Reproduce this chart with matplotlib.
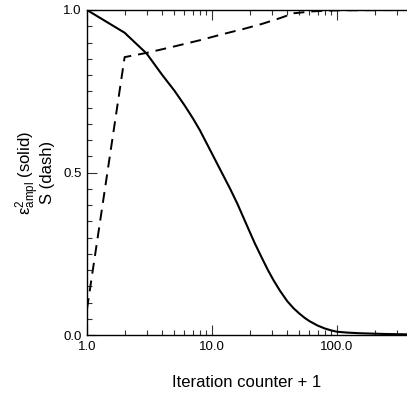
import numpy as np
import matplotlib
matplotlib.use("Agg")
import matplotlib.pyplot as plt
from matplotlib.ticker import FixedLocator, MultipleLocator, LogLocator, FormatStrFormatter, NullFormatter

plt.rcParams['font.family'] = ['Liberation Sans', 'DejaVu Sans']
plt.rcParams['mathtext.fontset'] = 'custom'
plt.rcParams['mathtext.rm'] = 'Liberation Sans'
plt.rcParams['mathtext.it'] = 'Liberation Sans:italic'

# amplitude error (solid)
iter_eps = [1, 2, 3, 4, 5, 6, 7, 8, 9, 10, 11, 12, 13, 14, 16, 18, 20, 22, 25, 28, 31, 35, 40, 45,
            50, 55, 60, 70, 80, 90, 100, 120, 150, 200, 250, 300, 363]
eps2 = [1.0, 0.93, 0.866, 0.80, 0.752, 0.708, 0.668, 0.63, 0.592, 0.558, 0.527, 0.499, 0.473, 0.449,
        0.403, 0.358, 0.318, 0.282, 0.238, 0.2, 0.169, 0.136, 0.104, 0.082, 0.066, 0.053, 0.043,
        0.029, 0.02, 0.014, 0.01, 0.0075, 0.0055, 0.004, 0.003, 0.0025, 0.002]

# S (dash)
iter_s = [1, 2, 3, 5, 8, 12, 18, 25, 35, 45, 65, 100, 363]
s_val = [0.08, 0.855, 0.868, 0.888, 0.907, 0.925, 0.942, 0.957, 0.975, 0.99, 0.996, 0.999, 1.0]

xticks = [1, 10, 100]
yticks = [0.0, 0.5, 1.0]

fig = plt.figure(figsize=(4.07, 3.98), dpi=100)
ax = fig.add_axes([87 / 407, 63 / 398, 320 / 407, 325 / 398])

ax.plot(iter_eps, eps2, color='black', lw=1.5)
ax.plot(iter_s, s_val, color='black', lw=1.4, linestyle=(0, (5.6, 3.6)))

ax.set_xscale('log')
ax.set_xlim(1, 10 ** (320 / 125))
ax.set_ylim(0, 1)

ax.xaxis.set_major_locator(FixedLocator(xticks))
ax.xaxis.set_major_formatter(FormatStrFormatter('%.1f'))
ax.xaxis.set_minor_locator(LogLocator(base=10, subs=np.arange(2, 10)))
ax.xaxis.set_minor_formatter(NullFormatter())
ax.yaxis.set_major_locator(FixedLocator(yticks))
ax.yaxis.set_major_formatter(FormatStrFormatter('%.1f'))
ax.yaxis.set_minor_locator(MultipleLocator(0.05))

ax.tick_params(which='both', direction='in', top=True, right=False, labelsize=9.5, width=0.8, color='#333333')
ax.tick_params(which='major', length=7, pad=4)
ax.tick_params(which='minor', length=3.5)
ax.spines['right'].set_visible(False)
for sp in ['left', 'bottom', 'top']:
    ax.spines[sp].set_linewidth(1.0)

ax.set_xlabel('Iteration counter + 1', fontsize=12)
ax.xaxis.set_label_coords(0.5, -40 / 325)
ax.set_ylabel('ε$^2_{\\mathregular{ampl}}$ (solid)\nS (dash)', fontsize=12, linespacing=0.8)
ax.yaxis.set_label_coords(-32 / 320, 0.5)

fig.savefig('out.png', dpi=100)
